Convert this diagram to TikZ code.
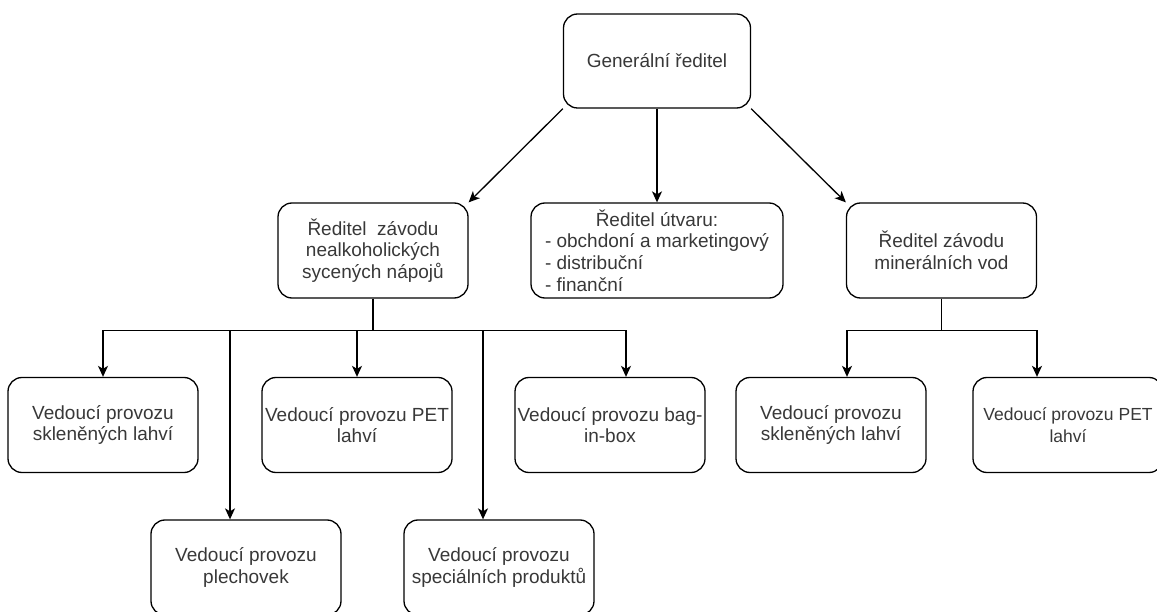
\documentclass[tikz,border=0pt]{standalone}
\usepackage{fontspec}
\setmainfont{Liberation Sans}
\usetikzlibrary{arrows.meta,calc}

\begin{document}
\begin{tikzpicture}[x=1pt, y=-1pt,
    box/.style={draw, line width=1.3pt, rounded corners=14pt,
      minimum width=190pt, minimum height=95pt, inner sep=0pt,
      align=center, font=\fontsize{19}{21.6}\selectfont, text=black!78},
    arr/.style={line width=1.3pt, -{Stealth[length=11pt,width=10pt,inset=3pt]}}]
  \useasboundingbox (0,0) rectangle (1157,612);
  % vedeni
  \node[box, minimum width=187pt, minimum height=94pt] (gen) at (657,61) {Generální ředitel};
  \node[box] (nap) at (373,250.5) {Ředitel~ závodu\\nealkoholických\\sycených nápojů};
  \node[box, minimum width=252pt, align=left] (utv) at (657,250.5)
    {\makebox[224pt]{Ředitel útvaru:}\\- obchdoní a marketingový\\- distribuční\\- finanční};
  \node[box] (min) at (941.5,250.5) {Ředitel závodu\\minerálních vod};
  % provozy
  \node[box] (skl) at (103,425) {Vedoucí provozu\\skleněných lahví};
  \node[box] (pet) at (357,425) {Vedoucí provozu PET\\lahví};
  \node[box] (bag) at (610,425) {Vedoucí provozu bag-\\in-box};
  \node[box] (ple) at (246,567.5) {Vedoucí provozu\\plechovek};
  \node[box] (spe) at (499,567.5) {Vedoucí provozu\\speciálních produktů};
  \node[box] (mskl) at (831,425) {Vedoucí provozu\\skleněných lahví};
  \node[box, font=\fontsize{17.5}{21.6}\selectfont, text depth=0pt] (mpet) at (1068,425) {Vedoucí provozu PET\\lahví};
  % spoje
  \draw[arr] (gen.south west) -- (nap.north east);
  \draw[arr] (gen.south) -- (utv.north);
  \draw[arr] (gen.south east) -- (min.north west);
  \draw[line width=1.3pt] (nap.south) -- ++(0,32) coordinate (nbus);
  \draw[arr] (nbus) -| (skl.north);
  \draw[arr] (nbus) -| ($(ple.north)+(-16,0)$);
  \draw[arr] (nbus) -| (pet.north);
  \draw[arr] (nbus) -| ($(spe.north)+(-16,0)$);
  \draw[arr] (nbus) -| ($(bag.north)+(16,0)$);
  \draw[line width=1.3pt] (min.south) -- ++(0,32) coordinate (mbus);
  \draw[arr] (mbus) -| ($(mskl.north)+(16,0)$);
  \draw[arr] (mbus) -| ($(mpet.north)+(-31,0)$);
\end{tikzpicture}
\end{document}
